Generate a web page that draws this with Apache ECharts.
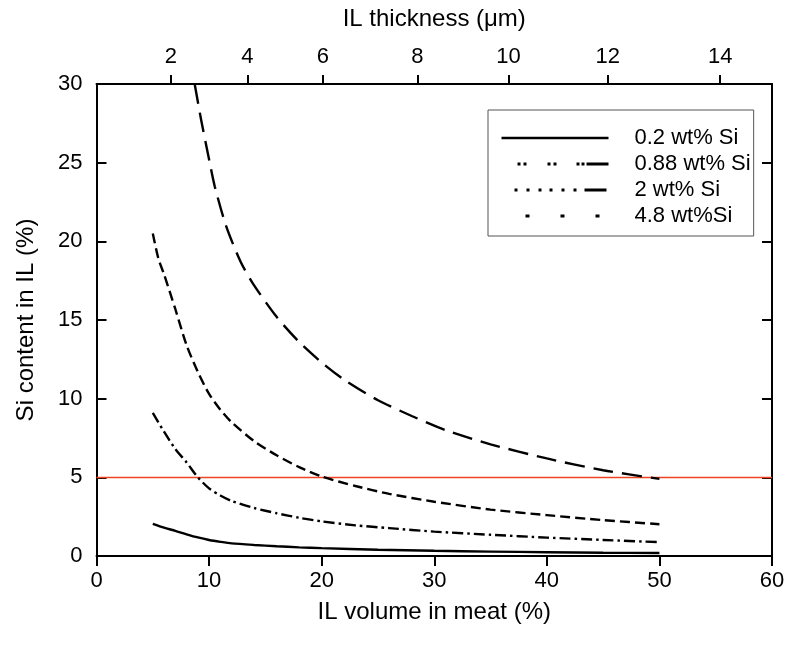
<!DOCTYPE html>
<html>
<head>
<meta charset="utf-8">
<script src="https://cdn.jsdelivr.net/npm/echarts@6/dist/echarts.min.js"></script>
<style>
html,body{margin:0;padding:0;background:#fff;}
#chart{width:790px;height:657px;}
</style>
</head>
<body>
<div id="chart"></div>
<script>
// ---- data ----
const seriesNames = ['0.2 wt% Si', '0.88 wt% Si', '2 wt% Si', '4.8 wt%Si'];

const volA = [5, 6, 7, 8, 9, 10, 11, 12, 14, 16, 18, 20, 25, 30, 35, 40, 45, 50];
const siA  = [2.04, 1.8, 1.6, 1.38, 1.18, 1.02, 0.9, 0.8, 0.7, 0.62, 0.55, 0.5, 0.4, 0.33, 0.28, 0.24, 0.21, 0.19];

const volB = [5, 6, 7, 8, 9, 10, 11, 12, 14, 16, 18, 20, 23, 26, 30, 35, 40, 45, 50];
const siB  = [9.1, 7.9, 6.8, 5.95, 5.0, 4.3, 3.85, 3.5, 3.05, 2.72, 2.43, 2.2, 1.95, 1.77, 1.55, 1.35, 1.17, 1.02, 0.88];

const volC = [5, 5.5, 6, 7, 8, 9, 10, 11, 12, 14, 16, 18, 20, 23, 26, 30, 35, 40, 45, 50];
const siC  = [20.5, 18.9, 17.9, 15.7, 13.4, 11.7, 10.3, 9.3, 8.5, 7.3, 6.4, 5.65, 5.05, 4.45, 3.95, 3.45, 2.95, 2.6, 2.28, 2.02];

const volD = [8.72, 9.3, 10, 10.5, 11.5, 12.8, 14, 16, 18, 20, 22, 25, 28, 31, 35, 40, 45, 50];
const siD  = [30, 27.7, 25.2, 23.5, 21.0, 18.7, 17.2, 15.2, 13.6, 12.3, 11.2, 9.9, 8.9, 8.0, 7.1, 6.2, 5.45, 4.9];

const limitSi = 5;

// top axis: IL thickness labels and the IL volume (%) they correspond to
const thicknessLabels = ['2', '4', '6', '8', '10', '12', '14'];
const thicknessAtVolume = [6.6, 13.4, 20.1, 28.5, 36.6, 45.4, 55.4];

const xTicks = [0, 10, 20, 30, 40, 50, 60];
const yTicks = [0, 5, 10, 15, 20, 25, 30];

// ---- chart ----
const FONT = 'Liberation Sans, Arial, sans-serif';
const zip = (xs, ys) => xs.map((x, i) => [x, ys[i]]);
const chart = echarts.init(document.getElementById('chart'), null, {renderer: 'canvas'});

const lineW = 2.4;
const styles = [
  {type: 'solid'},
  {type: [11, 4, 2.5, 4]},
  {type: [10, 5]},
  {type: [20, 9]}
];
// legend sample patterns as they appear in the reference key
const legendPatterns = [
  'solid',
  [0, 16, 3, 3, 3, 21, 3, 3, 3, 20, 3, 2, 3, 2, 22, 10],
  [0, 13, 3, 9, 3, 9, 3, 8, 3, 9, 3, 9, 3, 8, 22, 10],
  [0, 24, 4, 31, 4, 31, 4, 20]
];
const datas = [zip(volA, siA), zip(volB, siB), zip(volC, siC), zip(volD, siD)];

const series = seriesNames.map((name, i) => ({
  name: name,
  type: 'line',
  xAxisIndex: 0,
  yAxisIndex: 0,
  data: datas[i],
  symbol: 'none',
  showSymbol: false,
  smooth: 0.25,
  clip: true,
  lineStyle: Object.assign({color: '#000', width: lineW}, styles[i]),
  itemStyle: {color: '#000'},
  z: 3
}));
series[0].markLine = {
  silent: true,
  symbol: ['none', 'none'],
  label: {show: false},
  lineStyle: {color: '#ee4422', width: 1.4, type: 'solid', opacity: 1},
  data: [{yAxis: limitSi}],
  z: 2
};

const option = {
  animation: false,
  backgroundColor: '#fff',
  textStyle: {fontFamily: FONT, color: '#000'},
  grid: {left: 96.5, right: 18, top: 84, bottom: 101, containLabel: false, outerBoundsMode: 'none'},
  legend: {
    data: seriesNames.map((n, i) => ({
      name: n,
      lineStyle: {color: '#000', width: i === 0 ? 2.6 : 3, type: legendPatterns[i], cap: 'butt'}
    })),
    orient: 'vertical',
    left: 488,
    top: 110,
    padding: [17, 3, 9, 12],
    itemWidth: 107,
    itemHeight: 14,
    itemGap: 4,
    backgroundColor: '#fff',
    borderColor: '#555',
    borderWidth: 1,
    borderRadius: 0,
    selectedMode: false,
    itemStyle: {color: 'rgba(0,0,0,0)', borderWidth: 0, opacity: 0},
    textStyle: {fontFamily: FONT, fontSize: 22, color: '#000', lineHeight: 22, padding: [0, 0, 0, 21]}
  },
  xAxis: [
    {
      type: 'value', position: 'bottom', min: 0, max: 60, interval: 10,
      name: 'IL volume in meat (%)', nameLocation: 'middle', nameGap: 44,
      nameTextStyle: {fontFamily: FONT, fontSize: 24, color: '#000'},
      axisLine: {show: true, onZero: false, lineStyle: {color: '#000', width: 2}},
      axisTick: {show: true, inside: false, length: 10, lineStyle: {color: '#000', width: 2}},
      axisLabel: {show: true, margin: 14, fontFamily: FONT, fontSize: 22, color: '#000',
        customValues: xTicks},
      splitLine: {show: false}
    },
    {
      type: 'value', position: 'top', min: 0, max: 60,
      name: 'IL thickness (\u03bcm)', nameLocation: 'middle', nameGap: 53,
      nameTextStyle: {fontFamily: FONT, fontSize: 24, color: '#000'},
      axisLine: {show: true, onZero: false, lineStyle: {color: '#000', width: 2}},
      axisTick: {show: true, inside: false, length: 9, lineStyle: {color: '#000', width: 2},
        customValues: thicknessAtVolume},
      axisLabel: {show: true, margin: 16, fontFamily: FONT, fontSize: 22, color: '#000',
        customValues: thicknessAtVolume,
        formatter: function (v) {
          for (let i = 0; i < thicknessAtVolume.length; i++) {
            if (Math.abs(thicknessAtVolume[i] - v) < 1e-6) return thicknessLabels[i];
          }
          return '';
        }},
      splitLine: {show: false}
    },
    {
      type: 'value', position: 'top', min: 0, max: 60, interval: 10,
      axisLine: {show: false},
      axisTick: {show: true, inside: true, length: 4, lineStyle: {color: '#000', width: 1.5}},
      axisLabel: {show: false},
      splitLine: {show: false}
    }
  ],
  yAxis: [
    {
      type: 'value', position: 'left', min: 0, max: 30, interval: 5,
      name: 'Si content in IL (%)', nameLocation: 'middle', nameGap: 58,
      nameTextStyle: {fontFamily: FONT, fontSize: 24, color: '#000'},
      axisLine: {show: true, onZero: false, lineStyle: {color: '#000', width: 2}},
      axisTick: {show: true, inside: true, length: 10, lineStyle: {color: '#000', width: 2}},
      axisLabel: {show: true, margin: 14, fontFamily: FONT, fontSize: 22, color: '#000',
        customValues: yTicks},
      splitLine: {show: false}
    },
    {
      type: 'value', position: 'right', min: 0, max: 30, interval: 5,
      axisLine: {show: true, onZero: false, lineStyle: {color: '#000', width: 2}},
      axisTick: {show: true, inside: true, length: 10, lineStyle: {color: '#000', width: 2}},
      axisLabel: {show: false},
      splitLine: {show: false}
    }
  ],
  series: series
};
chart.setOption(option);
</script>
</body>
</html>
